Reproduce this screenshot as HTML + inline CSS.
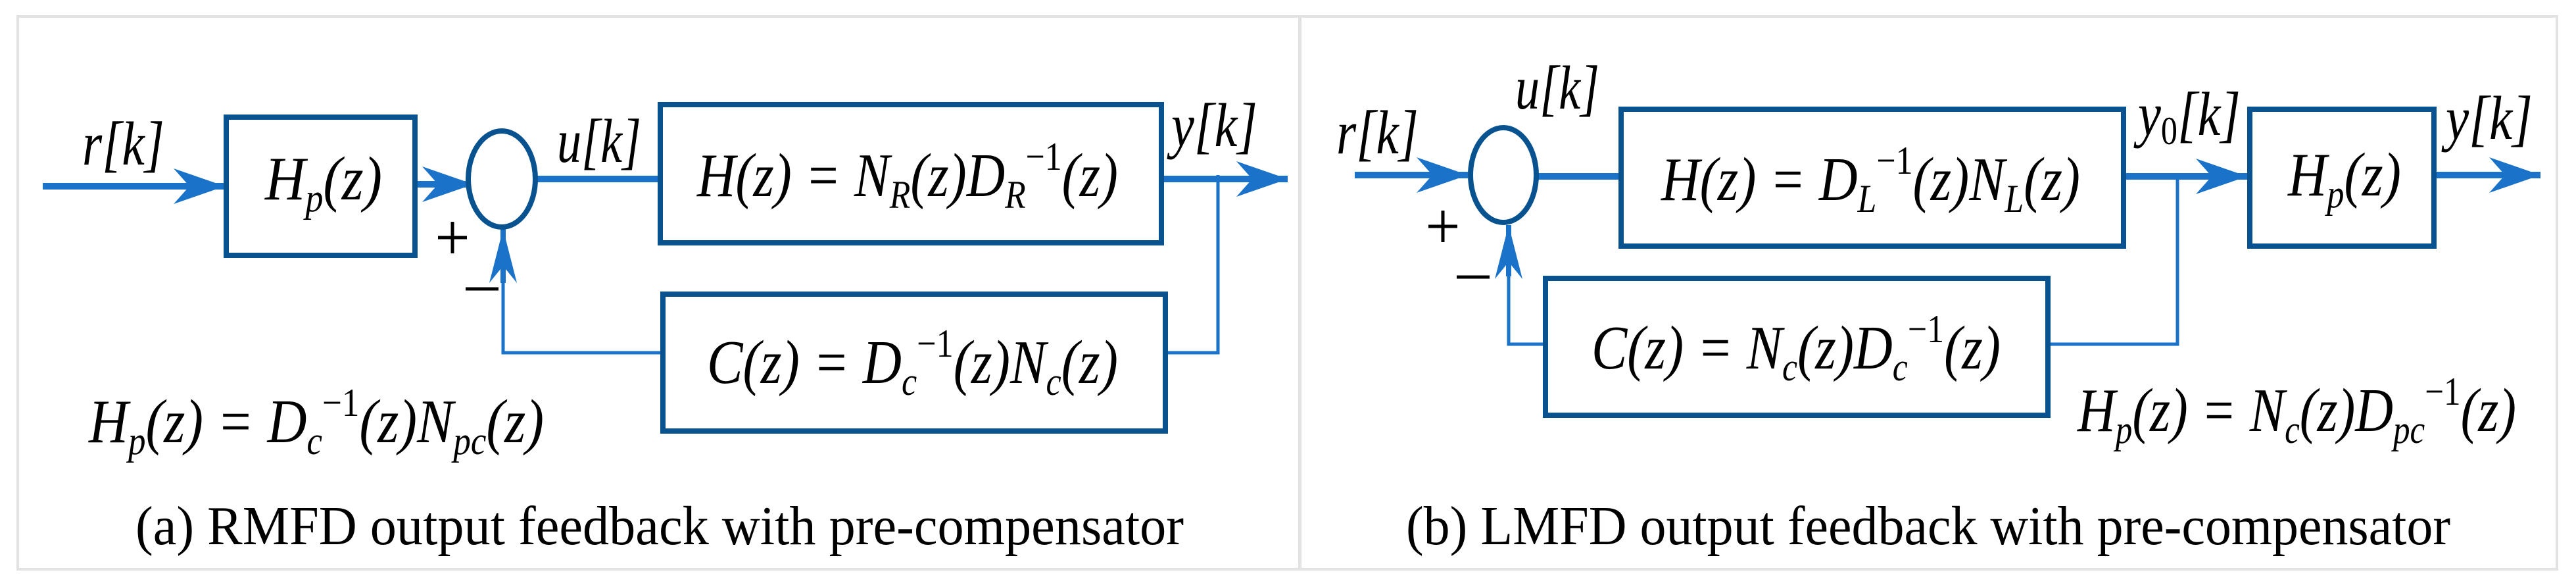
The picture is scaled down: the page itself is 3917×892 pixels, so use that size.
<!DOCTYPE html>
<html><head><meta charset="utf-8"><style>
html,body{margin:0;padding:0;background:#fff;}
svg{display:block;}
.m{font-family:"Liberation Serif",serif;font-style:italic;fill:#000;}
.cap{font-family:"Liberation Serif",serif;fill:#000;font-size:84px;}
</style></head><body>
<svg width="3917" height="892" viewBox="0 0 3917 892" xmlns="http://www.w3.org/2000/svg">
<defs>
<marker id="ah" viewBox="0 0 80 56" refX="78" refY="28" markerWidth="80" markerHeight="56" markerUnits="userSpaceOnUse" orient="auto">
<path d="M0,1 L78,28 L0,55 L24,28 Z" fill="#1a73c8"/></marker>
<marker id="av" viewBox="0 0 84 44" refX="82" refY="22" markerWidth="84" markerHeight="44" markerUnits="userSpaceOnUse" orient="auto">
<path d="M0,1 L82,22 L0,43 L26,22 Z" fill="#1a73c8"/></marker>
</defs>
<rect width="3917" height="892" fill="#fff"/>
<rect x="27" y="25" width="1950" height="840" fill="none" stroke="#e2e2e2" stroke-width="4"/>
<rect x="1976" y="25" width="1912" height="840" fill="none" stroke="#e2e2e2" stroke-width="4"/>

<g stroke="#1a73c8" fill="none">
<line x1="65" y1="283" x2="342" y2="283" stroke-width="10" marker-end="url(#ah)"/>
<line x1="631" y1="280" x2="720" y2="280" stroke-width="10" marker-end="url(#ah)"/>
<line x1="815" y1="272" x2="1000" y2="272" stroke-width="10"/>
<line x1="1766" y1="272" x2="1958" y2="272" stroke-width="10" marker-end="url(#ah)"/>
<polyline points="1852,266 1852,536 1772,536" stroke-width="5"/>
<polyline points="1006,536 765,536 765,350" stroke-width="5"/>
<line x1="765" y1="430" x2="765" y2="348" stroke-width="8" marker-end="url(#av)"/>
<line x1="2060" y1="266" x2="2232" y2="266" stroke-width="10" marker-end="url(#ah)"/>
<line x1="2338" y1="268" x2="2463" y2="268" stroke-width="10"/>
<line x1="3229" y1="268" x2="3417" y2="268" stroke-width="10" marker-end="url(#ah)"/>
<line x1="3703" y1="266" x2="3863" y2="266" stroke-width="10" marker-end="url(#ah)"/>
<polyline points="3311,266 3311,523 3116,523" stroke-width="5"/>
<polyline points="2348,523 2294,523 2294,345" stroke-width="5"/>
<line x1="2294" y1="420" x2="2294" y2="342" stroke-width="8" marker-end="url(#av)"/>
</g>

<g stroke="#08528f" stroke-width="8" fill="#fff">
<rect x="344" y="178" width="287" height="210"/>
<ellipse cx="763" cy="272" rx="51" ry="73"/>
<rect x="1004" y="159" width="762" height="210"/>
<rect x="1008" y="447" width="764" height="208"/>
<rect x="2465" y="166" width="764" height="208"/>
<ellipse cx="2286" cy="266" rx="50" ry="72"/>
<rect x="3421" y="166" width="280" height="208"/>
<rect x="2350" y="423" width="764" height="208"/>
</g>

<g stroke="#000" stroke-width="5">
<line x1="666" y1="361" x2="710" y2="361"/><line x1="688" y1="337" x2="688" y2="385"/>
<line x1="708" y1="439" x2="758" y2="439"/>
<line x1="2172" y1="344" x2="2216" y2="344"/><line x1="2194" y1="320" x2="2194" y2="368"/>
<line x1="2215" y1="421" x2="2265" y2="421"/>
</g>

<g class="m" font-size="94">
<text x="125" y="250" textLength="125" lengthAdjust="spacingAndGlyphs">r[k]</text>
<text x="847" y="246" textLength="128" lengthAdjust="spacingAndGlyphs">u[k]</text>
<text x="1781" y="222" textLength="131" lengthAdjust="spacingAndGlyphs">y[k]</text>
<text x="403" y="303" textLength="178" lengthAdjust="spacingAndGlyphs">H<tspan font-size="60" dy="18">p</tspan><tspan dy="-18">(z)</tspan></text>
<text x="1060" y="298" textLength="640" lengthAdjust="spacingAndGlyphs">H(z) = N<tspan font-size="60" dy="18">R</tspan><tspan dy="-18">(z)D</tspan><tspan font-size="60" dy="18">R</tspan><tspan font-size="60" dy="-58" font-style="normal">−1</tspan><tspan dy="40">(z)</tspan></text>
<text x="1075" y="582" textLength="625" lengthAdjust="spacingAndGlyphs">C(z) = D<tspan font-size="60" dy="18">c</tspan><tspan font-size="60" dy="-58" font-style="normal">−1</tspan><tspan dy="40">(z)N</tspan><tspan font-size="60" dy="18">c</tspan><tspan dy="-18">(z)</tspan></text>
<text x="135" y="672" textLength="692" lengthAdjust="spacingAndGlyphs">H<tspan font-size="60" dy="18">p</tspan><tspan dy="-18">(z) = D</tspan><tspan font-size="60" dy="18">c</tspan><tspan font-size="60" dy="-58" font-style="normal">−1</tspan><tspan dy="40">(z)N</tspan><tspan font-size="60" dy="18">pc</tspan><tspan dy="-18">(z)</tspan></text>

<text x="2032" y="233" textLength="125" lengthAdjust="spacingAndGlyphs">r[k]</text>
<text x="2304" y="165" textLength="128" lengthAdjust="spacingAndGlyphs">u[k]</text>
<text x="3251" y="205" textLength="156" lengthAdjust="spacingAndGlyphs">y<tspan font-size="60" dy="14" font-style="normal">0</tspan><tspan dy="-14">[k]</tspan></text>
<text x="3719" y="211" textLength="132" lengthAdjust="spacingAndGlyphs">y[k]</text>
<text x="2526" y="304" textLength="637" lengthAdjust="spacingAndGlyphs">H(z) = D<tspan font-size="60" dy="18">L</tspan><tspan font-size="60" dy="-58" font-style="normal">−1</tspan><tspan dy="40">(z)N</tspan><tspan font-size="60" dy="18">L</tspan><tspan dy="-18">(z)</tspan></text>
<text x="3479" y="297" textLength="172" lengthAdjust="spacingAndGlyphs">H<tspan font-size="60" dy="18">p</tspan><tspan dy="-18">(z)</tspan></text>
<text x="2420" y="560" textLength="622" lengthAdjust="spacingAndGlyphs">C(z) = N<tspan font-size="60" dy="18">c</tspan><tspan dy="-18">(z)D</tspan><tspan font-size="60" dy="18">c</tspan><tspan font-size="60" dy="-58" font-style="normal">−1</tspan><tspan dy="40">(z)</tspan></text>
<text x="3159" y="655" textLength="667" lengthAdjust="spacingAndGlyphs">H<tspan font-size="60" dy="18">p</tspan><tspan dy="-18">(z) = N</tspan><tspan font-size="60" dy="18">c</tspan><tspan dy="-18">(z)D</tspan><tspan font-size="60" dy="18">pc</tspan><tspan font-size="60" dy="-58" font-style="normal">−1</tspan><tspan dy="40">(z)</tspan></text>
</g>

<text class="cap" x="206" y="827" textLength="1594" lengthAdjust="spacingAndGlyphs">(a) RMFD output feedback with pre-compensator</text>
<text class="cap" x="2138" y="827" textLength="1588" lengthAdjust="spacingAndGlyphs">(b) LMFD output feedback with pre-compensator</text>
</svg>
</body></html>
